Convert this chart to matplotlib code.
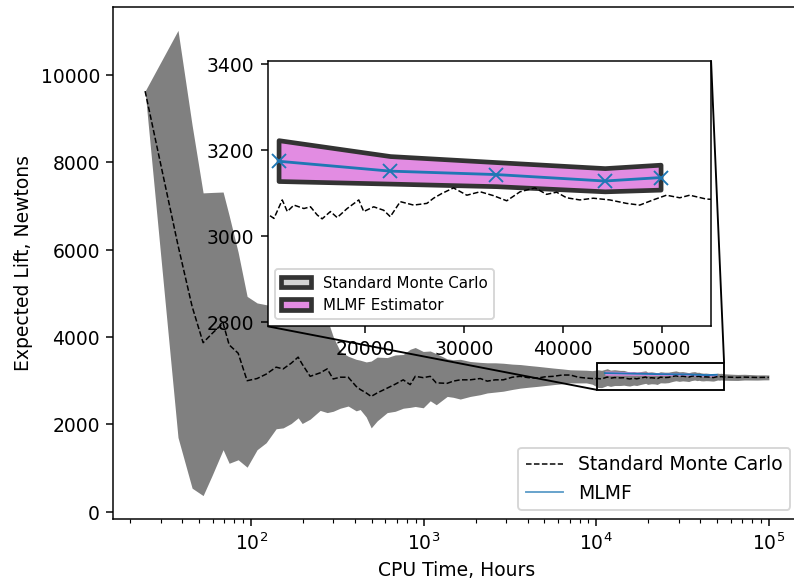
import matplotlib
matplotlib.use("Agg")
import matplotlib.pyplot as plt
from matplotlib.lines import Line2D
from matplotlib.patches import Patch
from mpl_toolkits.axes_grid1.inset_locator import mark_inset

# Standard Monte Carlo running estimate: CPU hours, mean, lower and upper bound
mc_hours = [
    24.3, 37.7, 45.5, 52.7, 59.4, 68.8, 74.6, 84.1, 94.8, 108.3,
    122.2, 139.6, 153.3, 170.6, 187.3, 197.6, 219.8, 251.2, 275.8, 298.8,
    328.1, 365.1, 406.1, 428.4, 464.2, 496.2, 537.6, 614.3, 683.6, 760.6,
    835.2, 892.9, 993.4, 1091, 1182, 1368, 1483, 1628, 1860, 2126,
    2334, 2597, 2890, 3260, 3626, 4035, 4550, 5062, 5632, 6354,
    7069, 7865, 8750, 9480,
    10235, 10740, 11580, 12090, 12760, 13770, 14440, 15120, 15620, 16460,
    17140, 18150, 19330, 19830, 20840, 21850, 22520, 23530, 24880, 26230,
    26900, 27740, 28920, 30270, 31620, 32960, 34310, 35660, 37170, 38350,
    39360, 40370, 41720, 43070, 44750, 46430, 47780, 49130, 50480, 51830,
    52840, 54520, 60000, 66000, 72000, 79000, 86000, 93000, 100000,
]
mc_mean = [
    9630, 6100, 4700, 3870, 4080, 4320, 3820, 3630, 3000, 3050,
    3150, 3310, 3270, 3400, 3540, 3380, 3100, 3180, 3270, 3040,
    3080, 3080, 2870, 2800, 2720, 2640, 2720, 2830, 2920, 3020,
    2910, 3100, 3070, 3100, 2950, 2940, 2990, 3020, 3020, 3050,
    2990, 3020, 3020, 3080, 3100, 3070, 3060, 3090, 3100, 3130,
    3130, 3080, 3060, 3050,
    3049, 3041, 3084, 3057, 3072, 3064, 3068, 3049, 3040, 3057,
    3043, 3064, 3084, 3057, 3068, 3060, 3045, 3080, 3072, 3076,
    3088, 3099, 3112, 3095, 3103, 3094, 3082, 3103, 3112, 3097,
    3102, 3089, 3084, 3088, 3084, 3076, 3072, 3084, 3095, 3089,
    3095, 3086, 3080, 3075, 3082, 3078, 3074, 3077, 3076,
]
mc_lower = [
    9630, 1700, 540, 370, 830, 1420, 1110, 1190, 1020, 1420,
    1580, 1900, 1920, 2020, 2150, 2020, 2120, 2320, 2270, 2300,
    2370, 2420, 2310, 2340, 2170, 1920, 2080, 2270, 2300, 2370,
    2390, 2410, 2380, 2540, 2450, 2640, 2620, 2580, 2640, 2680,
    2720, 2740, 2760, 2800, 2830, 2850, 2870, 2890, 2910, 2930,
    2950, 2950, 2950, 2920,
    2845, 2842, 2890, 2870, 2890, 2890, 2898, 2884, 2878, 2900,
    2890, 2916, 2940, 2916, 2930, 2926, 2914, 2952, 2948, 2956,
    2970, 2984, 2999, 2985, 2996, 2990, 2981, 3004, 3015, 3002,
    3009, 2998, 2995, 3001, 2999, 2993, 2991, 3004, 3016, 3011,
    3018, 3011, 3008, 3006, 3016, 3015, 3014, 3019, 3020,
]
mc_upper = [
    9630, 11020, 8850, 7300, 7310, 7320, 6780, 5940, 4930, 4780,
    4740, 4700, 4640, 4610, 4520, 4490, 4480, 4490, 4420, 4010,
    3670, 3560, 3490, 3470, 3430, 3450, 3540, 3530, 3590, 3600,
    3720, 3760, 3670, 3680, 3620, 3500, 3480, 3490, 3440, 3420,
    3410, 3410, 3400, 3380, 3370, 3350, 3330, 3310, 3290, 3270,
    3250, 3245, 3240, 3230,
    3250, 3238, 3275, 3242, 3252, 3236, 3236, 3212, 3200, 3212,
    3194, 3210, 3226, 3196, 3204, 3192, 3175, 3206, 3195, 3195,
    3205, 3214, 3224, 3204, 3209, 3197, 3183, 3201, 3208, 3191,
    3194, 3180, 3172, 3175, 3168, 3158, 3152, 3163, 3173, 3166,
    3171, 3160, 3150, 3143, 3147, 3140, 3133, 3134, 3131,
]

# MLMF estimator at each level of effort
mlmf_hours = [11207, 22505, 33255, 44239, 49888]
mlmf_mean = [3174, 3151, 3143, 3128, 3136]
mlmf_lower = [3128, 3122, 3116, 3104, 3108]
mlmf_upper = [3223, 3186, 3172, 3158, 3166]

C_MC = "grey"
C_MLMF = "#1f77b4"
C_BAND = "#e28ce2"
C_EDGE = "#333333"

W, H = 794, 581
fig = plt.figure(figsize=((W + 0.4) / 135, (H + 0.4) / 135), dpi=135)
# right edge of the axes sits just past the canvas
ax = fig.add_axes([113 / W, 62 / H, 686.7 / W, 511.5 / H])
ax.spines["right"].set_visible(False)

ax.fill_between(mc_hours, mc_lower, mc_upper, color=C_MC, lw=0)
ax.plot(mc_hours, mc_mean, "k--", lw=0.8)
ax.fill_between(mlmf_hours, mlmf_lower, mlmf_upper, color=C_BAND, lw=0)
ax.plot(mlmf_hours, mlmf_mean, color=C_MLMF, lw=1.0)

ax.set_xscale("log")
ax.set_xlim(10 ** 1.2, 10 ** (2 + 548.7 / 172.5))
ax.set_ylim(-165, 11553)
ax.set_xlabel("CPU Time, Hours")
ax.set_ylabel("Expected Lift, Newtons")

handles = [
    Line2D([], [], color="k", ls="--", lw=0.8),
    Line2D([], [], color=C_MLMF, lw=1, alpha=0.7),
]
ax.legend(handles, ["Standard Monte Carlo", "MLMF"], loc="lower right",
          bbox_to_anchor=(790 / W, 71 / H),
          bbox_transform=fig.transFigure, borderaxespad=0)

# zoomed view of the converged region
axins = fig.add_axes([267.5 / W, 254.5 / H, 443.2 / W, 265.5 / H])
axins.plot(mc_hours, mc_mean, "k--", lw=0.8)
axins.fill_between(mlmf_hours, mlmf_lower, mlmf_upper, facecolor=C_BAND,
                   edgecolor=C_EDGE, lw=2.5)
axins.plot(mlmf_hours, mlmf_mean, color=C_MLMF, lw=1.5, marker="x", ms=7)
axins.set_xlim(10100, 55000)
axins.set_ylim(2790, 3408)
axins.set_xticks([20000, 30000, 40000, 50000])
axins.set_yticks([2800, 3000, 3200, 3400])

patches = [
    Patch(facecolor="#d2d2d2", edgecolor=C_EDGE, lw=2.5),
    Patch(facecolor=C_BAND, edgecolor=C_EDGE, lw=2.5),
]
axins.legend(patches, ["Standard Monte Carlo", "MLMF Estimator"],
             loc="lower left", fontsize=8)

mark_inset(ax, axins, loc1=1, loc2=3, fc="none", ec="k", lw=1.0)

fig.savefig("out.png", dpi=135)
